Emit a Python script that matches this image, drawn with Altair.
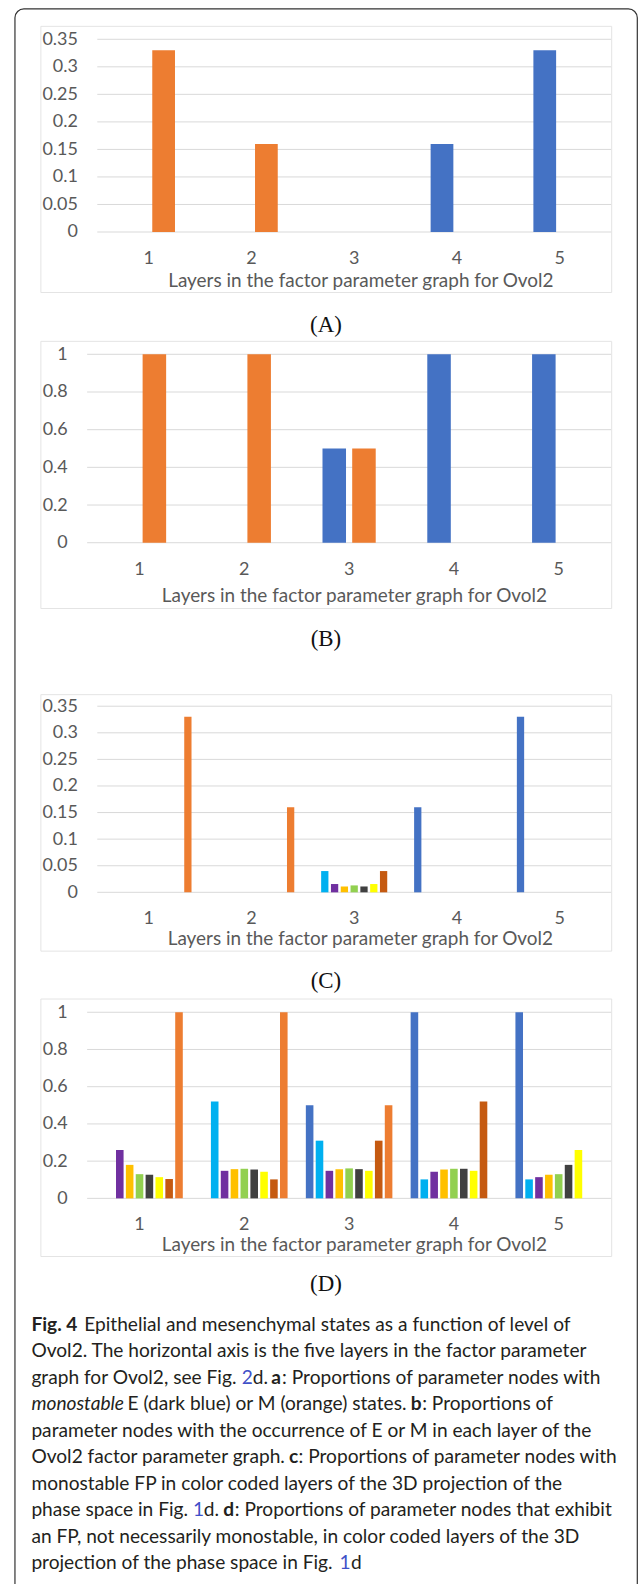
import altair as alt
import pandas as pd

# ------------------------------------------------------------------ data
layers = ["1", "2", "3", "4", "5"]

ab_series = ["E", "M"]
ab_colors = ["#4472C4", "#ED7D31"]
a_E = [0, 0, 0, 0.16, 0.33]
a_M = [0.33, 0.16, 0, 0, 0]
b_E = [0, 0, 0.5, 1, 1]
b_M = [1, 1, 0.5, 0, 0]

cd_series = ["E", "S1", "S2", "S3", "S4", "S5", "S6", "S7", "M"]
cd_colors = ["#4472C4", "#00B0F0", "#7030A0", "#FFC000", "#92D050",
             "#404040", "#FFFF00", "#C55A11", "#ED7D31"]
c_E = [0, 0, 0, 0.16, 0.33]
c_S1 = [0, 0, 0.04, 0, 0]
c_S2 = [0, 0, 0.0156, 0, 0]
c_S3 = [0, 0, 0.011, 0, 0]
c_S4 = [0, 0, 0.013, 0, 0]
c_S5 = [0, 0, 0.011, 0, 0]
c_S6 = [0, 0, 0.0156, 0, 0]
c_S7 = [0, 0, 0.04, 0, 0]
c_M = [0.33, 0.16, 0, 0, 0]

d_E = [0, 0, 0.5, 1, 1]
d_S1 = [0, 0.52, 0.31, 0.102, 0.102]
d_S2 = [0.26, 0.148, 0.148, 0.143, 0.114]
d_S3 = [0.18, 0.157, 0.157, 0.155, 0.127]
d_S4 = [0.13, 0.159, 0.161, 0.159, 0.13]
d_S5 = [0.127, 0.155, 0.157, 0.159, 0.18]
d_S6 = [0.114, 0.143, 0.148, 0.148, 0.26]
d_S7 = [0.104, 0.102, 0.31, 0.52, 0]
d_M = [1, 1, 0.5, 0, 0]

ticks_small = [0, 0.05, 0.1, 0.15, 0.2, 0.25, 0.3, 0.35]
ticks_unit = [0, 0.2, 0.4, 0.6, 0.8, 1]

x_title = "Layers in the factor parameter graph for Ovol2"
panel_labels = ["(A)", "(B)", "(C)", "(D)"]

caption_lines = [
    [("Fig. 4", "b"), ("Epithelial and mesenchymal states as a function of level of", "r")],
    [("Ovol2. The horizontal axis is the five layers in the factor parameter", "r")],
    [("graph for Ovol2, see Fig.", "r"), ("2", "l"), ("d.", "r"), ("a", "b"),
     (": Proportions of parameter nodes with", "r")],
    [("monostable", "i"), ("E (dark blue) or M (orange) states.", "r"), ("b", "b"),
     (": Proportions of", "r")],
    [("parameter nodes with the occurrence of E or M in each layer of the", "r")],
    [("Ovol2 factor parameter graph.", "r"), ("c", "b"),
     (": Proportions of parameter nodes with", "r")],
    [("monostable FP in color coded layers of the 3D projection of the", "r")],
    [("phase space in Fig.", "r"), ("1", "l"), ("d.", "r"), ("d", "b"),
     (": Proportions of parameter nodes that exhibit", "r")],
    [("an FP, not necessarily monostable, in color coded layers of the 3D", "r")],
    [("projection of the phase space in Fig.", "r"), ("1", "l"), ("d", "r")],
]
# page x position where each caption segment starts (layout only)
caption_x = [
    [30.5, 83.5],
    [30.5],
    [30.5, 241.5, 252.5, 271.0, 282.0],
    [30.5, 127.0, 411.0, 422.5],
    [30.5],
    [30.5, 289.0, 298.5],
    [30.5],
    [30.5, 192.5, 203.5, 223.0, 234.5],
    [30.5],
    [30.5, 339.5, 351.0],
]


def long_df(series, cols):
    rows = []
    for s, vals in zip(series, cols):
        for l, v in zip(layers, vals):
            rows.append({"layer": l, "series": s, "value": v})
    return pd.DataFrame(rows)


df_a = long_df(ab_series, [a_E, a_M])
df_b = long_df(ab_series, [b_E, b_M])
df_c = long_df(cd_series, [c_E, c_S1, c_S2, c_S3, c_S4, c_S5, c_S6, c_S7, c_M])
df_d = long_df(cd_series, [d_E, d_S1, d_S2, d_S3, d_S4, d_S5, d_S6, d_S7, d_M])

one = pd.DataFrame({"k": [0]})

# ------------------------------------------------------------------ layout
OX = 86.4          # page x of the common plot origin
W = 525.6
AX_FONT = "Lato"
AX_COLOR = "#595959"
AX_SIZE = 18
TITLE_SIZE = 19
GRID = "#D9D9D9"
BOX = "#E4E4E4"


def panel(df, series, colors, ymax, ticks, H, xr, pin, pout, lpad_y,
          box, title_x, title_y, lab_y, frame=None):
    xs = alt.Scale(domain=layers, range=list(xr), paddingInner=0, paddingOuter=0)
    ys = alt.Scale(domain=[0, ymax], nice=False, zero=True)
    yaxis = alt.Axis(values=ticks, format="~g", grid=False, domain=False, ticks=False,
                     tickSize=0, labelPadding=lpad_y, labelFlush=False, labelOverlap=False,
                     labelFont=AX_FONT, labelFontSize=AX_SIZE, labelColor=AX_COLOR, title="")
    xaxis = alt.Axis(title=x_title, labelAngle=0, domain=False, ticks=False, tickSize=0,
                     labelPadding=lab_y, labelBaseline="middle", labelFont=AX_FONT,
                     labelFontSize=AX_SIZE, labelColor=AX_COLOR, titleFont=AX_FONT,
                     titleFontSize=TITLE_SIZE, titleColor=AX_COLOR, titleFontWeight="normal",
                     titleX=title_x, titleY=title_y, titleBaseline="middle",
                     titleAlign="center")
    box_l = alt.Chart(one).mark_rect(fillOpacity=0, stroke=BOX, strokeWidth=1).encode(
        x=alt.value(box[0]), x2=alt.value(box[1]), y=alt.value(box[2]), y2=alt.value(box[3]))
    grid = alt.Chart(pd.DataFrame({"v": ticks})).mark_rule(color=GRID, strokeWidth=1).encode(
        y=alt.Y("v:Q", scale=ys, axis=yaxis), x=alt.value(xr[0]), x2=alt.value(xr[1]))
    bars = alt.Chart(df).mark_bar().encode(
        x=alt.X("layer:N", scale=xs, axis=xaxis),
        xOffset=alt.XOffset("series:N", scale=alt.Scale(domain=series, paddingInner=pin,
                                                         paddingOuter=pout)),
        y=alt.Y("value:Q", scale=ys, axis=yaxis),
        color=alt.Color("series:N", scale=alt.Scale(domain=series, range=colors), legend=None),
    )
    parts = [box_l, grid, bars]
    if frame is not None:
        fr = alt.Chart(one).mark_rect(fillOpacity=0, stroke="#333333", strokeWidth=1.2,
                                      cornerRadius=9).encode(
            x=alt.value(frame[0]), x2=alt.value(frame[1]),
            y=alt.value(frame[2]), y2=alt.value(frame[3]))
        parts.append(fr)
    return alt.layer(*parts).properties(width=W, height=H)


def label_mark(label, ly):
    return alt.Chart(one).mark_text(text=label, font="Liberation Serif", fontSize=23,
                                    color="#111111", align="center", baseline="middle").encode(
        x=alt.value(326 - OX), y=alt.value(ly))


def spacer(label, H, ly, extra=()):
    return alt.layer(label_mark(label, ly), *extra).properties(width=W, height=H)


# panel origins (page y of plot top) and heights
A_Y, A_H = 36.0, 193.3
B_Y, B_H = 351.0, 189.0
C_Y, C_H = 703.3, 186.7
D_Y, D_H = 1010.0, 186.7

box_x = (40 - OX, 612.6 - OX)
frame_rect = (14 - OX, 638.3 - OX, 5.5 - A_Y, 1610 - A_Y)

pa = panel(df_a, ab_series, ab_colors, 0.35, ticks_small, A_H, (10.2, W), 0.24, 0.838, 9.8,
           (box_x[0], box_x[1], 23 - A_Y, 290 - A_Y), 360.5 - OX, 48.7, 26.7,
           frame=frame_rect)
pb = panel(df_b, ab_series, ab_colors, 1, ticks_unit, B_H, (0, W), 0.208, 0.868, 20.0,
           (box_x[0], box_x[1], 338 - B_Y, 606 - B_Y), 354 - OX, 53.0, 26.7)
pc = panel(df_c, cd_series, cd_colors, 0.35, ticks_small, C_H, (10.2, W), 0.257, 0.871, 9.8,
           (box_x[0], box_x[1], 691.7 - C_Y, 949 - C_Y), 360 - OX, 46.7, 26.7)
pd_ = panel(df_d, cd_series, cd_colors, 1, ticks_unit, D_H, (0, W), 0.232, 0.925, 20.0,
            (box_x[0], box_x[1], 996.7 - D_Y, 1255 - D_Y), 354 - OX, 46.3, 26.3)

A_END = A_Y + A_H
B_END = B_Y + B_H
C_END = C_Y + C_H
D_END = D_Y + D_H

# caption segments (in the last cell)
CAP_FONT = "Lato"
CAP_SIZE = 19.2
CAP_BASE0 = 1329.0
CAP_STEP = 26.6
styles = {
    "r": dict(fontWeight="normal", fontStyle="normal", color="#231F20"),
    "b": dict(fontWeight="bold", fontStyle="normal", color="#231F20"),
    "i": dict(fontWeight="normal", fontStyle="italic", color="#231F20"),
    "l": dict(fontWeight="normal", fontStyle="normal", color="#3F51C8"),
}
cap_marks = []
for i, (segs, xs_) in enumerate(zip(caption_lines, caption_x)):
    yb = CAP_BASE0 + i * CAP_STEP - D_END
    for (txt, st), xp in zip(segs, xs_):
        cap_marks.append(
            alt.Chart(one).mark_text(text=txt, font=CAP_FONT, fontSize=CAP_SIZE, align="left",
                                     baseline="alphabetic", **styles[st]).encode(
                x=alt.value(xp - OX), y=alt.value(yb)))

sa = spacer(panel_labels[0], B_Y - A_END, 321.5 - A_END)
sb = spacer(panel_labels[1], C_Y - B_END, 636.3 - B_END)
sc = spacer(panel_labels[2], D_Y - C_END, 979 - C_END)
sd = spacer(panel_labels[3], 395, 1282.5 - D_END, extra=cap_marks)

chart = alt.vconcat(pa, sa, pb, sb, pc, sc, pd_, sd, spacing=0, bounds="flush").resolve_scale(
    color="independent", xOffset="independent", x="independent", y="independent"
).properties(
    padding={"left": 13.4, "top": 4.9, "right": 0, "bottom": 0},
    background="white",
).configure_view(stroke="transparent")

chart.save("out.html", embed_options={"renderer": "svg", "actions": False})
